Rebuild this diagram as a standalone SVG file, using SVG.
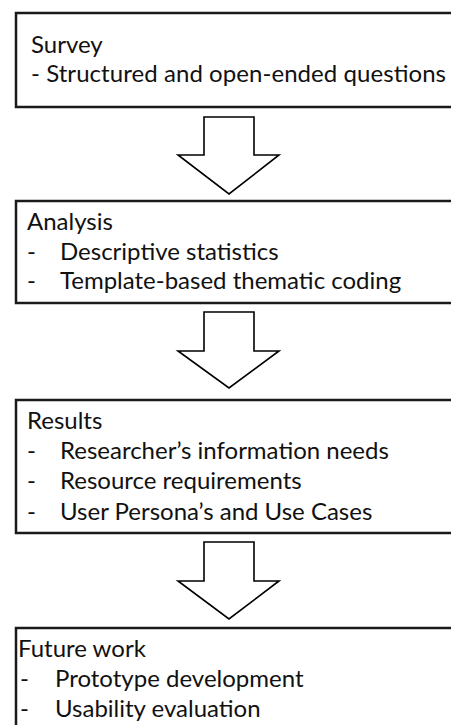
<svg xmlns="http://www.w3.org/2000/svg" width="451" height="725" viewBox="0 0 451 725">
<style>
.box{fill:#ffffff;stroke:#1a1a1a;stroke-width:2.5}
.arr{fill:#ffffff;stroke:#000000;stroke-width:1.6;stroke-linejoin:miter}
text{font-family:Lato,"Liberation Sans",sans-serif;font-size:24px;fill:#111111}
</style>
<rect width="451" height="725" fill="#ffffff"/>
<g id="survey">
<rect class="box" x="16" y="13" width="450" height="94"/>
<text x="31" y="53">Survey</text>
<text x="31" y="82" textLength="415" lengthAdjust="spacing">- Structured and open-ended questions</text>
</g>
<g id="analysis">
<rect class="box" x="16" y="201" width="450" height="102"/>
<text x="27" y="230">Analysis</text>
<text x="27" y="260">-</text><text x="60" y="260">Descriptive statistics</text>
<text x="27" y="289">-</text><text x="60" y="289">Template-based thematic coding</text>
</g>
<g id="results">
<rect class="box" x="16" y="400" width="450" height="133"/>
<text x="27" y="429">Results</text>
<text x="27" y="459">-</text><text x="60" y="459">Researcher’s information needs</text>
<text x="27" y="489">-</text><text x="60" y="489">Resource requirements</text>
<text x="27" y="520">-</text><text x="60" y="520">User Persona’s and Use Cases</text>
</g>
<g id="future">
<rect class="box" x="16" y="628" width="450" height="120"/>
<text x="18" y="657">Future work</text>
<text x="20" y="687">-</text><text x="55" y="687">Prototype development</text>
<text x="20" y="717">-</text><text x="55" y="717">Usability evaluation</text>
</g>
<g id="connectors">
<path class="arr" d="M204,117 H254 V155 H279 L229,194 L178,155 H204 Z"/>
<path class="arr" d="M204,312 H254 V351 H279 L229,388 L178,351 H204 Z"/>
<path class="arr" d="M204,542 H254 V581 H279 L229,619 L178,581 H204 Z"/>
</g>
</svg>
